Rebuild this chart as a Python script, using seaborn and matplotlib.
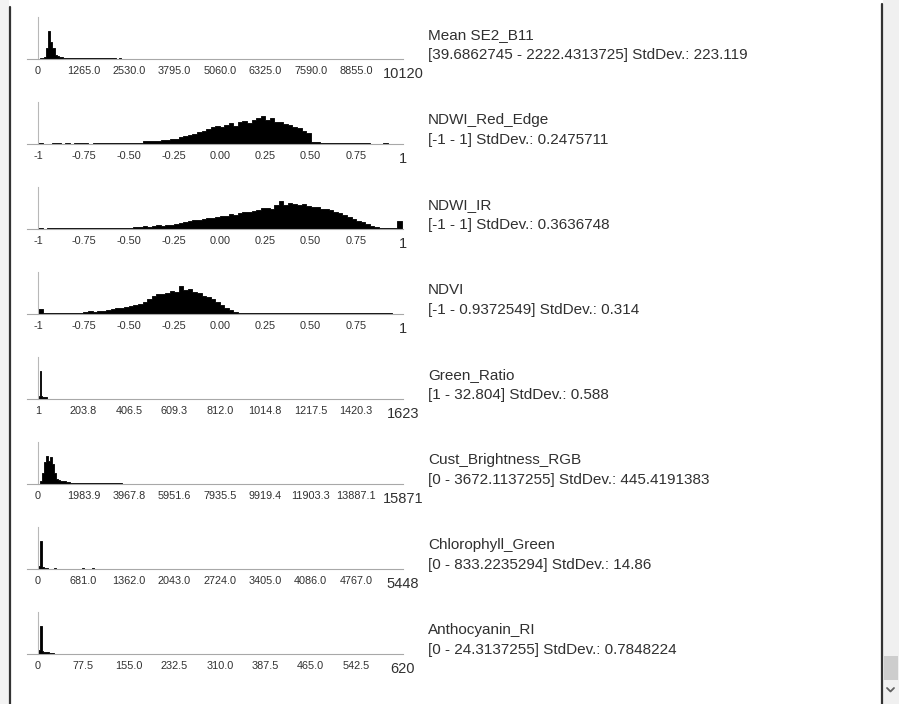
import numpy as np
import pandas as pd
import matplotlib
matplotlib.use("Agg")
import matplotlib.pyplot as plt
import seaborn as sns

# feature names and range / stddev lines shown right of each histogram
names = ["Mean SE2_B11", "NDWI_Red_Edge", "NDWI_IR", "NDVI", "Green_Ratio",
         "Cust_Brightness_RGB", "Chlorophyll_Green", "Anthocyanin_RI"]
stats = ["[39.6862745 - 2222.4313725] StdDev.: 223.119",
         "[-1 - 1] StdDev.: 0.2475711",
         "[-1 - 1] StdDev.: 0.3636748",
         "[-1 - 0.9372549] StdDev.: 0.314",
         "[1 - 32.804] StdDev.: 0.588",
         "[0 - 3672.1137255] StdDev.: 445.4191383",
         "[0 - 833.2235294] StdDev.: 14.86",
         "[0 - 24.3137255] StdDev.: 0.7848224"]

# axis ranges (min, max) of each panel
axis_min = [0, -1, -1, -1, 1, 0, 0, 0]
axis_max = [10120, 1, 1, 1, 1623, 15871, 5448, 620]

# tick labels (9 per panel)
tick_labels = [
    ["0", "1265.0", "2530.0", "3795.0", "5060.0", "6325.0", "7590.0", "8855.0", "10120"],
    ["-1", "-0.75", "-0.50", "-0.25", "0.00", "0.25", "0.50", "0.75", "1"],
    ["-1", "-0.75", "-0.50", "-0.25", "0.00", "0.25", "0.50", "0.75", "1"],
    ["-1", "-0.75", "-0.50", "-0.25", "0.00", "0.25", "0.50", "0.75", "1"],
    ["1", "203.8", "406.5", "609.3", "812.0", "1014.8", "1217.5", "1420.3", "1623"],
    ["0", "1983.9", "3967.8", "5951.6", "7935.5", "9919.4", "11903.3", "13887.1", "15871"],
    ["0", "681.0", "1362.0", "2043.0", "2724.0", "3405.0", "4086.0", "4767.0", "5448"],
    ["0", "77.5", "155.0", "232.5", "310.0", "387.5", "465.0", "542.5", "620"],
]

# histogram bin ranges (lo, hi) and relative counts (peak = 100)
bin_lo = [0, -1, -1, -1, 1, 0, 0, 0]
bin_hi = [2300, 1, 1, 1, 41.5, 3675, 840, 27]

mean_b11 = [0, 4, 4, 6, 38, 100, 62, 40, 15, 9, 6, 6] + [4] * 25 + [3, 0, 4]
ndwi_red_edge = ([4, 0, 0, 3, 3, 0, 3, 0, 3, 3, 3, 0] + [3] * 10 +
                 [4, 10, 9, 12, 11, 15, 14, 19, 18, 24, 28, 32, 36, 42, 48, 55,
                  60, 64, 62, 68, 75, 66, 78, 82, 74, 86, 92, 100, 84, 93, 80,
                  78, 72, 68, 62, 56, 48, 40, 8, 6] +
                 [3] * 11 + [0, 0, 0, 4, 0, 0, 0])
ndwi_ir = ([4, 0, 3] +
           [3, 3, 3, 5, 3, 3, 3, 5, 3, 3, 3, 5, 3, 3, 5, 3, 5] +
           [5, 7, 6, 9, 8, 11, 13, 12, 16, 15, 19, 22, 26, 28, 31, 33,
            35, 38, 41, 44, 46, 48, 52, 50, 56, 62, 60, 66, 68, 74, 76, 72,
            84, 100, 86, 94, 90, 84, 88, 82, 80, 78, 72, 70, 68, 62, 56, 50,
            44, 36, 30, 24, 18, 12, 8] +
           [3, 3, 3, 3, 27])
ndvi = ([18] + [3] * 9 +
        [6, 9, 8, 11, 12, 15, 17, 20, 22, 25, 28, 31, 36, 44, 52, 66, 72,
         70, 76, 82, 80, 100, 86, 90, 78, 74, 66, 60, 52, 42, 32, 22, 14, 7] +
        [3, 3, 3, 5, 5, 5] + [3] * 24 + [5, 5, 3, 2, 0, 0])
green_ratio = [8, 9, 100, 9, 8, 7, 7, 6, 6]
cust_brightness = [0, 10, 40, 80, 100, 82, 98, 70, 40, 18, 14, 12, 10, 9, 8, 7] + [4] * 26
chlorophyll_green = [10, 100, 6, 5, 4, 0, 0, 0, 3] + [0] * 13 + [3, 0, 0, 0, 0, 3]
anthocyanin_ri = [15, 100, 9, 7, 6, 6, 5, 5, 4]

counts = [mean_b11, ndwi_red_edge, ndwi_ir, ndvi, green_ratio,
          cust_brightness, chlorophyll_green, anthocyanin_ri]

W, H = 899, 704
sns.set_style("white")
plt.rcParams["font.family"] = ["Liberation Sans", "DejaVu Sans"]

fig = plt.figure(figsize=(W / 100, H / 100), dpi=100, facecolor="white")

# window frame in pixel coordinates
bg = fig.add_axes([0, 0, 1, 1], zorder=-5)
bg.set_xlim(0, W)
bg.set_ylim(H, 0)
bg.axis("off")
bg.add_patch(plt.Rectangle((0, 0), 9, H, color="#f3f3f3", lw=0))
bg.add_patch(plt.Rectangle((883, 0), W - 883, H, color="#f0f0f0", lw=0))
bg.add_patch(plt.Rectangle((884, 656), W - 885, 24, color="#cdcdcd", lw=0))
bg.plot([10, 10], [7, H], color="#333333", lw=1.6)
bg.plot([882, 882], [4, H], color="#333333", lw=1.6)
bg.plot([887, 890.5, 894], [688, 691.5, 688], color="#606060", lw=1.3)

text_color = "#303030"
for i in range(8):
    baseline = 59 + 85 * i
    lo, hi = axis_min[i], axis_max[i]
    scale = (hi - lo) / 363.5
    ax = fig.add_axes([27 / W, (H - baseline) / H, 376 / W, 42 / H])
    ax.patch.set_alpha(0)

    c = np.array(counts[i], dtype=float)
    nb = len(c)
    width = (bin_hi[i] - bin_lo[i]) / nb
    df = pd.DataFrame({"value": bin_lo[i] + width * (np.arange(nb) + 0.5),
                       "count": c})
    sns.histplot(data=df, x="value", weights="count", bins=nb,
                 binrange=(bin_lo[i], bin_hi[i]), element="step", fill=True,
                 color="black", alpha=1, linewidth=0.6, ax=ax)

    ax.set_xlim(lo - 11 * scale, hi + 1.5 * scale)
    ax.set_ylim(0, 150)
    ax.set_xlabel("")
    ax.set_ylabel("")
    ax.set_yticks([])
    for s in ["top", "right"]:
        ax.spines[s].set_visible(False)
    ax.spines["left"].set_position(("data", lo))
    ax.spines["left"].set_color("#b8b8b8")
    ax.spines["left"].set_linewidth(0.8)
    ax.spines["bottom"].set_color("#a8a8a8")
    ax.spines["bottom"].set_linewidth(0.8)

    ticks = np.linspace(lo, hi, 9)
    labels = tick_labels[i][:-1] + [""]
    ax.set_xticks(ticks, labels)
    ax.tick_params(axis="x", direction="in", length=3, width=0.6,
                   color="#a8a8a8", labelsize=7.8, labelcolor=text_color, pad=5)
    ax.annotate(tick_labels[i][-1], xy=(hi, 0), xycoords=("data", "axes fraction"),
                xytext=(1, -10.5), textcoords="offset points", ha="center",
                va="center", fontsize=10.5, color=text_color)

    fig.text(428 / W, 1 - (baseline - 24) / H, names[i], fontsize=11,
             color=text_color, va="center", ha="left")
    fig.text(428 / W, 1 - (baseline - 4) / H, stats[i], fontsize=11,
             color=text_color, va="center", ha="left")

fig.savefig("out.png", dpi=100, facecolor="white")
